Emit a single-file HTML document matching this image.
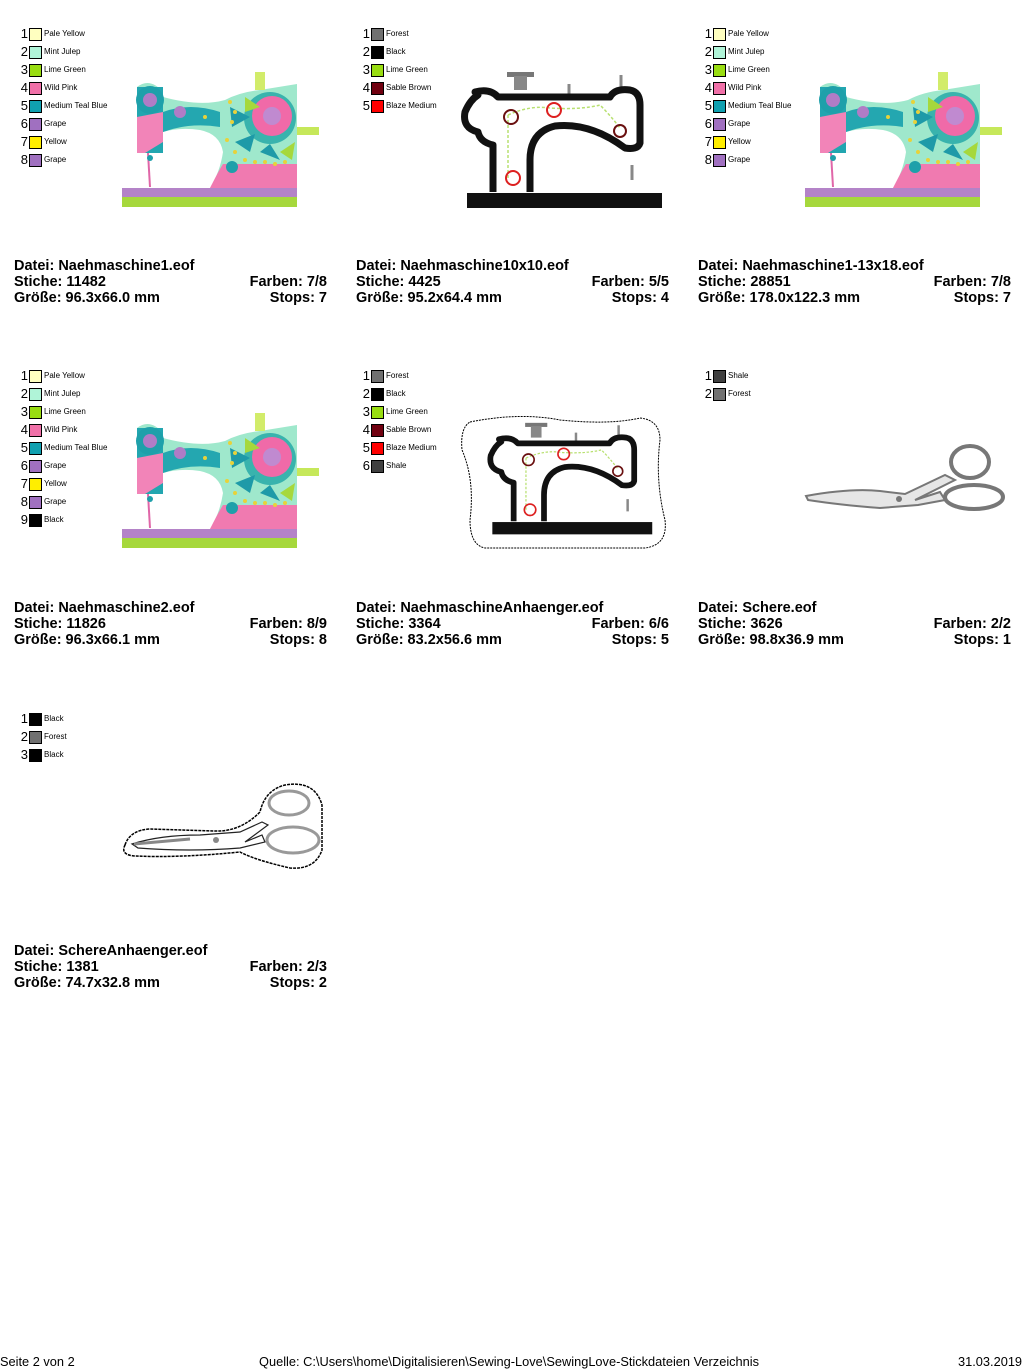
<!DOCTYPE html>
<html><head><meta charset="utf-8"><style>
html,body{margin:0;padding:0;background:#fff;}
body{width:1024px;height:1370px;position:relative;overflow:hidden;font-family:"Liberation Sans",Arial,sans-serif;}
.n{position:absolute;width:14px;text-align:right;font-size:13px;line-height:14px;color:#000;}
.s{position:absolute;width:11px;height:11px;border:1px solid #000;}
.l{position:absolute;font-size:8px;line-height:10px;color:#000;}
.t{position:absolute;width:313px;font-weight:bold;font-size:14.5px;line-height:16px;color:#000;}
.t div{position:relative;height:16px;}
.t span{position:absolute;right:0;top:0;}
.f{position:absolute;top:1355px;font-size:12.8px;line-height:14px;}
svg{position:absolute;left:0;top:0;}
</style></head><body>
<svg width="1024" height="1370" viewBox="0 0 1024 1370">
<defs>
<g id="cm">
<rect x="2" y="116" width="175" height="11" fill="#b483c8"/>
<rect x="2" y="125" width="175" height="10" fill="#a6d83c"/>
<path d="M17,15 Q30,5 43,20 L43,25 Q80,35 105,28 Q120,20 140,18 L177,12 L177,116 L90,116 Q100,100 103,80 Q100,62 80,58 Q60,55 43,60 L43,81 L17,81 Z" fill="#9fe8cc"/>
<path d="M90,116 Q98,100 103,92 L177,92 L177,116 Z" fill="#f07ab0"/>
<rect x="17" y="15" width="26" height="66" fill="#22a6b0"/>
<path d="M17,45 L43,40 L43,70 L25,81 L17,81Z" fill="#f284b8"/>
<circle cx="30" cy="28" r="14" fill="#1ea0aa"/>
<circle cx="30" cy="28" r="7" fill="#b07cc6"/>
<path d="M43,40 Q70,30 100,40 L100,55 Q70,50 43,60Z" fill="#24a7b0"/>
<circle cx="60" cy="40" r="6" fill="#b07cc6"/>
<circle cx="150" cy="46" r="26" fill="#39b3ad"/>
<circle cx="152" cy="44" r="20" fill="#f06aa8"/>
<circle cx="152" cy="44" r="9" fill="#c08ad0"/>
<path d="M110,35 L130,45 L112,55Z M115,70 L135,62 L130,80Z M140,80 L150,72 L160,88Z" fill="#1e9aa8"/>
<path d="M125,25 L140,35 L125,40Z M160,80 L175,70 L172,88Z" fill="#a6d83c"/>
<rect x="177" y="55" width="22" height="8" fill="#c6e85a"/>
<rect x="135" y="0" width="10" height="18" fill="#d2ec6a"/>
<circle cx="112" cy="95" r="6" fill="#1ea0aa"/>
<g fill="#e8d23a"><circle cx="110" cy="30" r="2"/><circle cx="115" cy="40" r="2"/><circle cx="112" cy="50" r="2"/><circle cx="107" cy="68" r="2"/><circle cx="115" cy="80" r="2"/><circle cx="125" cy="88" r="2"/><circle cx="135" cy="90" r="2"/><circle cx="145" cy="90" r="2"/><circle cx="155" cy="92" r="2"/><circle cx="165" cy="90" r="2"/><circle cx="85" cy="45" r="2"/></g>
<path d="M28,81 L30,115" stroke="#e066a8" stroke-width="2"/>
<circle cx="30" cy="86" r="3" fill="#1ea0aa"/>
</g>
<g id="bm" fill="none">
<rect x="507" y="72" width="27" height="5" fill="#777"/>
<rect x="514" y="76" width="13" height="14" fill="#888"/>
<path d="M569,84 L569,97 M621,75 L621,92 M632,165 L632,180" stroke="#888" stroke-width="3"/>
<rect x="467" y="193" width="195" height="15" fill="#111"/>
<path d="M493,192 L493,145 Q480,142 478,132 Q462,128 465,112 Q470,100 478,95 L475,92 Q490,88 498,97 L610,97 Q615,88 630,90 Q640,92 640,105 L640,143 Q638,150 625,148 Q590,122 555,126 Q530,132 530,160 L530,192" stroke="#111" stroke-width="7" stroke-linejoin="round"/>
<path d="M508,115 Q530,105 550,108 Q580,110 600,105 Q610,115 620,128 M508,115 L508,180" stroke="#b8e070" stroke-width="1.5" stroke-dasharray="3,2"/>
<g stroke-width="2"><circle cx="511" cy="117" r="7" stroke="#6a1010"/><circle cx="554" cy="110" r="7" stroke="#dd2020"/><circle cx="620" cy="131" r="6" stroke="#6a1010"/><circle cx="513" cy="178" r="7" stroke="#dd2020"/></g>
</g>
</defs>
<use href="#cm" x="120" y="72"/>
<use href="#cm" x="803" y="72"/>
<use href="#cm" x="120" y="413"/>
<use href="#bm"/>
<path d="M470,422 Q520,412 560,420 Q610,425 640,418 Q660,420 660,440 Q655,480 665,520 Q668,545 645,548 L485,548 Q470,545 470,520 Q475,480 462,450 Q460,428 470,422Z" fill="none" stroke="#000" stroke-width="1" stroke-dasharray="2,1"/>
<g transform="translate(462,413) scale(0.82) translate(-430,-60)"><use href="#bm"/></g>
<path d="M806,496 Q850,488 880,491 L905,494 L945,475 L955,480 L915,500 L940,492 L945,500 L918,505 L880,508 Q840,505 808,500Z" fill="#e6e6e6" stroke="#777" stroke-width="2"/>
<ellipse cx="970" cy="462" rx="19" ry="16" fill="none" stroke="#777" stroke-width="4"/>
<ellipse cx="974" cy="497" rx="29" ry="12" fill="none" stroke="#777" stroke-width="4"/>
<circle cx="899" cy="499" r="3" fill="#777"/>
<path d="M125,845 Q130,830 150,829 L215,831 Q240,832 260,812 Q265,790 285,785 Q315,780 322,805 L322,850 Q315,870 290,868 Q255,860 240,852 Q180,858 135,856 Q120,855 125,845Z" fill="none" stroke="#000" stroke-width="1.5" stroke-dasharray="3,1"/>
<path d="M132,844 Q160,835 200,835 L240,832 L262,822 L268,825 L245,842 L262,835 L265,842 L240,848 Q190,852 138,848Z" fill="#fff" stroke="#222" stroke-width="1.2"/>
<path d="M134,844 L190,839" stroke="#888" stroke-width="3"/>
<circle cx="216" cy="840" r="3" fill="#888"/>
<ellipse cx="289" cy="803" rx="20" ry="12" fill="none" stroke="#999" stroke-width="3"/>
<ellipse cx="293" cy="840" rx="26" ry="13" fill="none" stroke="#999" stroke-width="3"/>
</svg>

<div class="n" style="left:14px;top:27px">1</div><div class="s" style="left:29px;top:28px;background:#ffffc0"></div><div class="l" style="left:44px;top:29px">Pale Yellow</div>
<div class="n" style="left:14px;top:45px">2</div><div class="s" style="left:29px;top:46px;background:#b0f4d8"></div><div class="l" style="left:44px;top:47px">Mint Julep</div>
<div class="n" style="left:14px;top:63px">3</div><div class="s" style="left:29px;top:64px;background:#99dd11"></div><div class="l" style="left:44px;top:65px">Lime Green</div>
<div class="n" style="left:14px;top:81px">4</div><div class="s" style="left:29px;top:82px;background:#f070a8"></div><div class="l" style="left:44px;top:83px">Wild Pink</div>
<div class="n" style="left:14px;top:99px">5</div><div class="s" style="left:29px;top:100px;background:#10a0b0"></div><div class="l" style="left:44px;top:101px">Medium Teal Blue</div>
<div class="n" style="left:14px;top:117px">6</div><div class="s" style="left:29px;top:118px;background:#a070c0"></div><div class="l" style="left:44px;top:119px">Grape</div>
<div class="n" style="left:14px;top:135px">7</div><div class="s" style="left:29px;top:136px;background:#ffee00"></div><div class="l" style="left:44px;top:137px">Yellow</div>
<div class="n" style="left:14px;top:153px">8</div><div class="s" style="left:29px;top:154px;background:#a070c0"></div><div class="l" style="left:44px;top:155px">Grape</div>
<div class="t" style="left:14px;top:258px"><div>Datei: Naehmaschine1.eof</div><div>Stiche: 11482<span>Farben: 7/8</span></div><div>Größe: 96.3x66.0 mm<span>Stops: 7</span></div></div>

<div class="n" style="left:356px;top:27px">1</div><div class="s" style="left:371px;top:28px;background:#707070"></div><div class="l" style="left:386px;top:29px">Forest</div>
<div class="n" style="left:356px;top:45px">2</div><div class="s" style="left:371px;top:46px;background:#000"></div><div class="l" style="left:386px;top:47px">Black</div>
<div class="n" style="left:356px;top:63px">3</div><div class="s" style="left:371px;top:64px;background:#99dd11"></div><div class="l" style="left:386px;top:65px">Lime Green</div>
<div class="n" style="left:356px;top:81px">4</div><div class="s" style="left:371px;top:82px;background:#700010"></div><div class="l" style="left:386px;top:83px">Sable Brown</div>
<div class="n" style="left:356px;top:99px">5</div><div class="s" style="left:371px;top:100px;background:#ff0000"></div><div class="l" style="left:386px;top:101px">Blaze Medium</div>
<div class="t" style="left:356px;top:258px"><div>Datei: Naehmaschine10x10.eof</div><div>Stiche: 4425<span>Farben: 5/5</span></div><div>Größe: 95.2x64.4 mm<span>Stops: 4</span></div></div>

<div class="n" style="left:698px;top:27px">1</div><div class="s" style="left:713px;top:28px;background:#ffffc0"></div><div class="l" style="left:728px;top:29px">Pale Yellow</div>
<div class="n" style="left:698px;top:45px">2</div><div class="s" style="left:713px;top:46px;background:#b0f4d8"></div><div class="l" style="left:728px;top:47px">Mint Julep</div>
<div class="n" style="left:698px;top:63px">3</div><div class="s" style="left:713px;top:64px;background:#99dd11"></div><div class="l" style="left:728px;top:65px">Lime Green</div>
<div class="n" style="left:698px;top:81px">4</div><div class="s" style="left:713px;top:82px;background:#f070a8"></div><div class="l" style="left:728px;top:83px">Wild Pink</div>
<div class="n" style="left:698px;top:99px">5</div><div class="s" style="left:713px;top:100px;background:#10a0b0"></div><div class="l" style="left:728px;top:101px">Medium Teal Blue</div>
<div class="n" style="left:698px;top:117px">6</div><div class="s" style="left:713px;top:118px;background:#a070c0"></div><div class="l" style="left:728px;top:119px">Grape</div>
<div class="n" style="left:698px;top:135px">7</div><div class="s" style="left:713px;top:136px;background:#ffee00"></div><div class="l" style="left:728px;top:137px">Yellow</div>
<div class="n" style="left:698px;top:153px">8</div><div class="s" style="left:713px;top:154px;background:#a070c0"></div><div class="l" style="left:728px;top:155px">Grape</div>
<div class="t" style="left:698px;top:258px"><div>Datei: Naehmaschine1-13x18.eof</div><div>Stiche: 28851<span>Farben: 7/8</span></div><div>Größe: 178.0x122.3 mm<span>Stops: 7</span></div></div>

<div class="n" style="left:14px;top:369px">1</div><div class="s" style="left:29px;top:370px;background:#ffffc0"></div><div class="l" style="left:44px;top:371px">Pale Yellow</div>
<div class="n" style="left:14px;top:387px">2</div><div class="s" style="left:29px;top:388px;background:#b0f4d8"></div><div class="l" style="left:44px;top:389px">Mint Julep</div>
<div class="n" style="left:14px;top:405px">3</div><div class="s" style="left:29px;top:406px;background:#99dd11"></div><div class="l" style="left:44px;top:407px">Lime Green</div>
<div class="n" style="left:14px;top:423px">4</div><div class="s" style="left:29px;top:424px;background:#f070a8"></div><div class="l" style="left:44px;top:425px">Wild Pink</div>
<div class="n" style="left:14px;top:441px">5</div><div class="s" style="left:29px;top:442px;background:#10a0b0"></div><div class="l" style="left:44px;top:443px">Medium Teal Blue</div>
<div class="n" style="left:14px;top:459px">6</div><div class="s" style="left:29px;top:460px;background:#a070c0"></div><div class="l" style="left:44px;top:461px">Grape</div>
<div class="n" style="left:14px;top:477px">7</div><div class="s" style="left:29px;top:478px;background:#ffee00"></div><div class="l" style="left:44px;top:479px">Yellow</div>
<div class="n" style="left:14px;top:495px">8</div><div class="s" style="left:29px;top:496px;background:#a070c0"></div><div class="l" style="left:44px;top:497px">Grape</div>
<div class="n" style="left:14px;top:513px">9</div><div class="s" style="left:29px;top:514px;background:#000"></div><div class="l" style="left:44px;top:515px">Black</div>
<div class="t" style="left:14px;top:600px"><div>Datei: Naehmaschine2.eof</div><div>Stiche: 11826<span>Farben: 8/9</span></div><div>Größe: 96.3x66.1 mm<span>Stops: 8</span></div></div>

<div class="n" style="left:356px;top:369px">1</div><div class="s" style="left:371px;top:370px;background:#707070"></div><div class="l" style="left:386px;top:371px">Forest</div>
<div class="n" style="left:356px;top:387px">2</div><div class="s" style="left:371px;top:388px;background:#000"></div><div class="l" style="left:386px;top:389px">Black</div>
<div class="n" style="left:356px;top:405px">3</div><div class="s" style="left:371px;top:406px;background:#99dd11"></div><div class="l" style="left:386px;top:407px">Lime Green</div>
<div class="n" style="left:356px;top:423px">4</div><div class="s" style="left:371px;top:424px;background:#700010"></div><div class="l" style="left:386px;top:425px">Sable Brown</div>
<div class="n" style="left:356px;top:441px">5</div><div class="s" style="left:371px;top:442px;background:#ff0000"></div><div class="l" style="left:386px;top:443px">Blaze Medium</div>
<div class="n" style="left:356px;top:459px">6</div><div class="s" style="left:371px;top:460px;background:#404040"></div><div class="l" style="left:386px;top:461px">Shale</div>
<div class="t" style="left:356px;top:600px"><div>Datei: NaehmaschineAnhaenger.eof</div><div>Stiche: 3364<span>Farben: 6/6</span></div><div>Größe: 83.2x56.6 mm<span>Stops: 5</span></div></div>

<div class="n" style="left:698px;top:369px">1</div><div class="s" style="left:713px;top:370px;background:#404040"></div><div class="l" style="left:728px;top:371px">Shale</div>
<div class="n" style="left:698px;top:387px">2</div><div class="s" style="left:713px;top:388px;background:#707070"></div><div class="l" style="left:728px;top:389px">Forest</div>
<div class="t" style="left:698px;top:600px"><div>Datei: Schere.eof</div><div>Stiche: 3626<span>Farben: 2/2</span></div><div>Größe: 98.8x36.9 mm<span>Stops: 1</span></div></div>

<div class="n" style="left:14px;top:712px">1</div><div class="s" style="left:29px;top:713px;background:#000"></div><div class="l" style="left:44px;top:714px">Black</div>
<div class="n" style="left:14px;top:730px">2</div><div class="s" style="left:29px;top:731px;background:#707070"></div><div class="l" style="left:44px;top:732px">Forest</div>
<div class="n" style="left:14px;top:748px">3</div><div class="s" style="left:29px;top:749px;background:#000"></div><div class="l" style="left:44px;top:750px">Black</div>
<div class="t" style="left:14px;top:943px"><div>Datei: SchereAnhaenger.eof</div><div>Stiche: 1381<span>Farben: 2/3</span></div><div>Größe: 74.7x32.8 mm<span>Stops: 2</span></div></div>

<div class="f" style="left:0px">Seite 2 von 2</div>
<div class="f" style="left:259px">Quelle: C:\Users\home\Digitalisieren\Sewing-Love\SewingLove-Stickdateien Verzeichnis</div>
<div class="f" style="left:958px">31.03.2019</div>
</body></html>
